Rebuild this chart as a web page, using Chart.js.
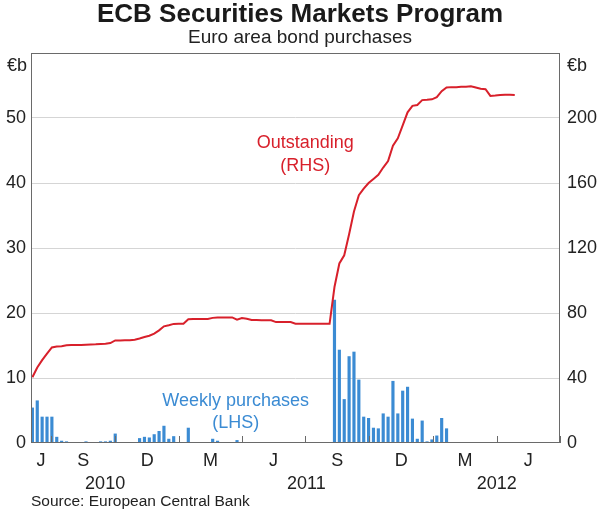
<!DOCTYPE html>
<html>
<head>
<meta charset="utf-8">
<title>ECB Securities Markets Program</title>
<script src="https://cdn.jsdelivr.net/npm/chart.js@4.4.1/dist/chart.umd.min.js"></script>
<style>
  body { margin: 0; background: #fff; }
  canvas { display: block; }
</style>
</head>
<body>
<canvas id="myChart" width="600" height="514"></canvas>
<script>
// weekly data, first week ending Fri 4 June 2010
var firstWeek = "2010-06-04";

// weekly purchases, EUR b (LHS)
var purchases = [
  5.4, 6.5, 4.0, 4.0, 4.0, 0.9, 0.3, 0.2, 0.1, 0,
  0, 0.2, 0.1, 0.1, 0.2, 0.2, 0.3, 1.4, 0, 0,
  0, 0, 0.7, 0.9, 0.8, 1.3, 1.8, 2.6, 0.6, 1.0,
  0, 0, 2.3, 0.1, 0, 0, 0, 0.6, 0.3, 0,
  0, 0, 0.4, 0, 0, 0, 0, 0, 0, 0,
  0, 0, 0, 0, 0, 0, 0, 0, 0, 0,
  0, 0, 22.0, 14.3, 6.7, 13.3, 14.0, 9.7, 4.0, 3.8,
  2.3, 2.2, 4.5, 4.0, 9.5, 4.5, 8.0, 8.6, 3.7, 0.6,
  3.4, 0.2, 0.5, 1.1, 3.8, 2.2, 0.1, 0.05, 0.05, 0,
  0, 0, 0, 0, 0, 0, 0, 0, 0, 0
];

// outstanding holdings, EUR b (RHS)
var outstanding = [
  40.5, 46.5, 51.0, 55.0, 58.8, 59.4, 59.6, 60.2, 60.3, 60.3,
  60.3, 60.5, 60.6, 60.7, 60.9, 61.1, 61.5, 63.1, 63.1, 63.2,
  63.3, 63.6, 64.3, 65.2, 66.0, 67.3, 69.3, 71.8, 72.5, 73.3,
  73.4, 73.4, 76.2, 76.3, 76.3, 76.3, 76.3, 77.0, 77.3, 77.3,
  77.3, 77.3, 75.9, 76.9, 76.5, 75.7, 75.7, 75.6, 75.5, 75.5,
  74.4, 74.4, 74.4, 74.4, 73.4, 73.4, 73.4, 73.4, 73.4, 73.4,
  73.4, 73.4, 96.0, 110.5, 115.5, 128.5, 142.5, 152.5, 156.5, 160.0,
  162.5, 165.0, 169.5, 173.5, 183.0, 187.5, 195.5, 203.5, 207.5, 208.0,
  211.0, 211.2, 211.5, 212.8, 216.5, 218.8, 219.0, 219.0, 219.2, 219.3,
  219.5, 218.8, 218.0, 217.7, 213.6, 213.8, 214.2, 214.3, 214.3, 214.2
];

// x axis
var axisStart = "2010-06-02";
var axisEnd = "2012-07-01";
var quarterStarts = ["2010-07-01", "2010-10-01", "2011-01-01", "2011-04-01",
  "2011-07-01", "2011-10-01", "2012-01-01", "2012-04-01", "2012-07-01"];
var monthLabels = ["J", "S", "D", "M", "J", "S", "D", "M", "J"];
var yearStarts = ["2011-01-01", "2012-01-01"];
var yearLabels = ["2010", "2011", "2012"];

var leftTicks = [0, 10, 20, 30, 40, 50, 60];
var rightTicks = [0, 40, 80, 120, 160, 200, 240];

var FONT = '"Liberation Sans", Arial, sans-serif';
var RED = "#d8202b";
var BLUE = "#3b8bd3";

// days since 1 July 2010
function dayOf(s) {
  return (Date.parse(s) - Date.parse("2010-07-01")) / 864e5;
}

var weekDays = purchases.map(function (v, i) { return dayOf(firstWeek) + 7 * i; });

var barData = purchases.map(function (v, i) { return { x: weekDays[i], y: v }; });
var lineData = outstanding.map(function (v, i) { return { x: weekDays[i], y: v }; });

// label centres: middle of each quarter / year shown
var qEdges = [dayOf(axisStart)].concat(quarterStarts.map(dayOf));
var monthCentres = [];
for (var i = 0; i < qEdges.length - 1; i++) monthCentres.push((qEdges[i] + qEdges[i + 1]) / 2);
var yEdges = [dayOf(axisStart)].concat(yearStarts.map(dayOf), [dayOf(axisEnd)]);
var yearCentres = [];
for (var j = 0; j < yEdges.length - 1; j++) yearCentres.push((yEdges[j] + yEdges[j + 1]) / 2);

// frame, inside tick marks, units and series notes
var decor = {
  id: "decor",
  afterDatasetsDraw: function (chart) {
    var ctx = chart.ctx, a = chart.chartArea, sx = chart.scales.x;
    var ys = chart.scales.y, y2 = chart.scales.y2;
    ctx.save();
    ctx.strokeStyle = "#6a6a6a";
    ctx.lineWidth = 1;
    ctx.strokeRect(Math.round(a.left) + 0.5, Math.round(a.top) + 0.5,
      Math.round(a.right - a.left) - 1, Math.round(a.bottom - a.top) - 1);

    ctx.beginPath();
    quarterStarts.forEach(function (q) {
      var px = Math.round(sx.getPixelForValue(dayOf(q))) + 0.5;
      ctx.moveTo(px, a.bottom);
      ctx.lineTo(px, a.bottom - 7);
    });
    ctx.stroke();

    ctx.font = "18px " + FONT;
    ctx.fillStyle = "#222";
    ctx.textBaseline = "middle";
    ctx.textAlign = "right";
    ctx.fillText("€b", a.left - 4, a.top + 13);
    ctx.textAlign = "left";
    ctx.fillText("€b", a.right + 7, a.top + 13);

    ctx.textAlign = "center";
    ctx.fillStyle = RED;
    ctx.fillText("Outstanding", sx.getPixelForValue(365), y2.getPixelForValue(184.5));
    ctx.fillText("(RHS)", sx.getPixelForValue(365), y2.getPixelForValue(170.3));
    ctx.fillStyle = BLUE;
    ctx.fillText("Weekly purchases", sx.getPixelForValue(265), ys.getPixelForValue(6.5));
    ctx.fillText("(LHS)", sx.getPixelForValue(265), ys.getPixelForValue(3.0));
    ctx.restore();
  }
};

Chart.defaults.font.family = FONT;
Chart.defaults.color = "#222";

var ctx = document.getElementById("myChart").getContext("2d");
var myChart = new Chart(ctx, {
  type: "bar",
  data: {
    datasets: [
      {
        type: "line",
        label: "Outstanding (RHS)",
        data: lineData,
        yAxisID: "y2",
        borderColor: RED,
        borderWidth: 2,
        pointRadius: 0,
        tension: 0,
        order: 0
      },
      {
        label: "Weekly purchases (LHS)",
        data: barData,
        yAxisID: "y",
        backgroundColor: BLUE,
        barThickness: 2.5,
        grouped: false,
        order: 1
      }
    ]
  },
  options: {
    responsive: false,
    animation: false,
    layout: { padding: 0 },
    plugins: {
      legend: { display: false },
      tooltip: { enabled: false },
      title: {
        display: true,
        text: "ECB Securities Markets Program",
        color: "#1a1a1a",
        font: { size: 26, weight: "bold", lineHeight: 0.9 },
        padding: { top: 3, bottom: 0 }
      },
      subtitle: {
        display: true,
        text: "Euro area bond purchases",
        color: "#222",
        font: { size: 19, lineHeight: 1.2 },
        padding: { top: 0, bottom: 3.8 }
      }
    },
    scales: {
      x: {
        type: "linear",
        position: "bottom",
        weight: 0,
        offset: false,
        min: dayOf(axisStart),
        max: dayOf(axisEnd),
        grid: { display: false, drawTicks: false },
        border: { display: false },
        afterBuildTicks: function (scale) {
          scale.ticks = monthCentres.map(function (v) { return { value: v }; });
        },
        afterFit: function (scale) { scale.height = 26; },
        ticks: {
          autoSkip: false,
          maxRotation: 0,
          padding: 7,
          font: { size: 18 },
          callback: function (value, index) { return monthLabels[index]; }
        }
      },
      x2: {
        type: "linear",
        position: "bottom",
        weight: 1,
        offset: false,
        min: dayOf(axisStart),
        max: dayOf(axisEnd),
        grid: { display: false, drawTicks: false },
        border: { display: false },
        afterBuildTicks: function (scale) {
          scale.ticks = yearCentres.map(function (v) { return { value: v }; });
        },
        afterFit: function (scale) { scale.height = 45; },
        ticks: {
          autoSkip: false,
          maxRotation: 0,
          padding: 4,
          font: { size: 18 },
          callback: function (value, index) { return yearLabels[index]; }
        },
        title: {
          display: true,
          text: "Source: European Central Bank",
          align: "start",
          color: "#222",
          font: { size: 15.5 },
          padding: { top: 0, bottom: 3 }
        }
      },
      y: {
        position: "left",
        min: 0,
        max: 60,
        afterBuildTicks: function (scale) {
          scale.ticks = leftTicks.map(function (v) { return { value: v }; });
        },
        afterFit: function (scale) { scale.width = 31; },
        grid: {
          drawTicks: false,
          color: function (c) {
            return (c.tick && (c.tick.value === 0 || c.tick.value === 60)) ? "rgba(0,0,0,0)" : "#d5d5d5";
          },
          lineWidth: 1
        },
        border: { display: false },
        ticks: {
          padding: 5,
          font: { size: 18 },
          callback: function (v) { return v === 60 ? "" : v; }
        }
      },
      y2: {
        position: "right",
        min: 0,
        max: 240,
        afterBuildTicks: function (scale) {
          scale.ticks = rightTicks.map(function (v) { return { value: v }; });
        },
        afterFit: function (scale) { scale.width = 40; },
        grid: { display: false, drawTicks: false },
        border: { display: false },
        ticks: {
          padding: 7,
          font: { size: 18 },
          callback: function (v) { return v === 240 ? "" : v; }
        }
      }
    }
  },
  plugins: [decor]
});
</script>
</body>
</html>
